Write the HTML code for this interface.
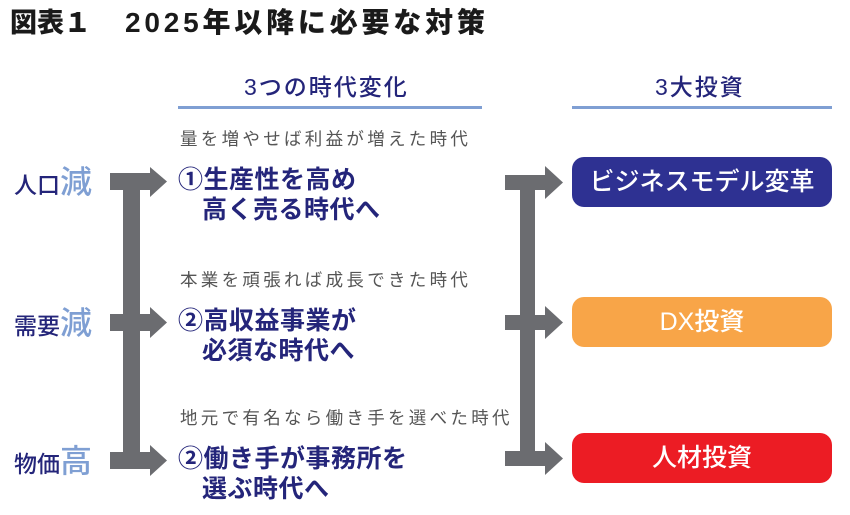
<!DOCTYPE html>
<html><head><meta charset="utf-8"><style>
body{margin:0;width:850px;height:515px;background:#fff;position:relative;overflow:hidden;font-family:"Liberation Sans","Noto Sans CJK JP",sans-serif}
.a{position:absolute;white-space:nowrap;line-height:1}
.t{font-weight:900;font-size:27px;color:#1a1a1a;top:10px}
.h{font-size:23px;color:#24257a;font-weight:500;letter-spacing:2px}
.ul{position:absolute;height:3px;background:#7f9fd3}
.g{font-size:17.5px;color:#555;letter-spacing:3.3px;left:180px}
.n{font-size:25px;color:#24257a;font-weight:bold;line-height:30px;letter-spacing:0.5px}
.n i{font-style:normal;padding-left:24px}
.l{font-size:23px;color:#24257a;font-weight:500;left:14px}
.l span{font-size:32px;color:#7f9fd3}
.box{position:absolute;left:572px;width:260px;height:50px;border-radius:12px;color:#fff;font-size:25px;font-weight:500;text-align:center;line-height:50px}
</style></head><body>
<div class="a t" style="left:10px">図表１</div>
<div class="a t" style="left:125px;font-size:28px;letter-spacing:3.8px;top:9px">2025年以降に必要な対策</div>
<div class="a h" style="left:244px;top:76px">3つの時代変化</div>
<div class="ul" style="left:178px;top:106px;width:304px"></div>
<div class="a h" style="left:655px;top:76px">3大投資</div>
<div class="ul" style="left:572px;top:106px;width:260px"></div>

<svg style="position:absolute;left:0;top:0" width="850" height="515">
<g fill="#6b6c70">
<rect x="123" y="180" width="17" height="282"/>
<rect x="110" y="173" width="42" height="17"/><polygon points="150,167 167,181.5 150,197"/>
<rect x="110" y="314" width="42" height="17"/><polygon points="150,307 167,322.5 150,338"/>
<rect x="110" y="452" width="42" height="17"/><polygon points="150,445 167,460.5 150,476"/>
<rect x="520" y="182" width="15" height="276"/>
<rect x="505" y="175" width="42" height="15"/><polygon points="545,166 563,182.5 545,199"/>
<rect x="505" y="315" width="42" height="15"/><polygon points="545,306 563,322.5 545,339"/>
<rect x="505" y="451" width="42" height="15"/><polygon points="545,442 563,458.5 545,475"/>
</g></svg>

<div class="a l" style="top:166px">人口<span>減</span></div>
<div class="a l" style="top:307px">需要<span>減</span></div>
<div class="a l" style="top:445px">物価<span>高</span></div>

<div class="a g" style="top:131px">量を増やせば利益が増えた時代</div>
<div class="a n" style="left:178px;top:165px">①生産性を高め<br><i>高く売る時代へ</i></div>
<div class="a g" style="top:272px">本業を頑張れば成長できた時代</div>
<div class="a n" style="left:178px;top:306px">②高収益事業が<br><i>必須な時代へ</i></div>
<div class="a g" style="top:410px">地元で有名なら働き手を選べた時代</div>
<div class="a n" style="left:178px;top:444px">②働き手が事務所を<br><i>選ぶ時代へ</i></div>

<div class="box" style="top:157px;background:#2e3192">ビジネスモデル変革</div>
<div class="box" style="top:297px;background:#f8a548">DX投資</div>
<div class="box" style="top:433px;background:#ec1c24">人材投資</div>
</body></html>
